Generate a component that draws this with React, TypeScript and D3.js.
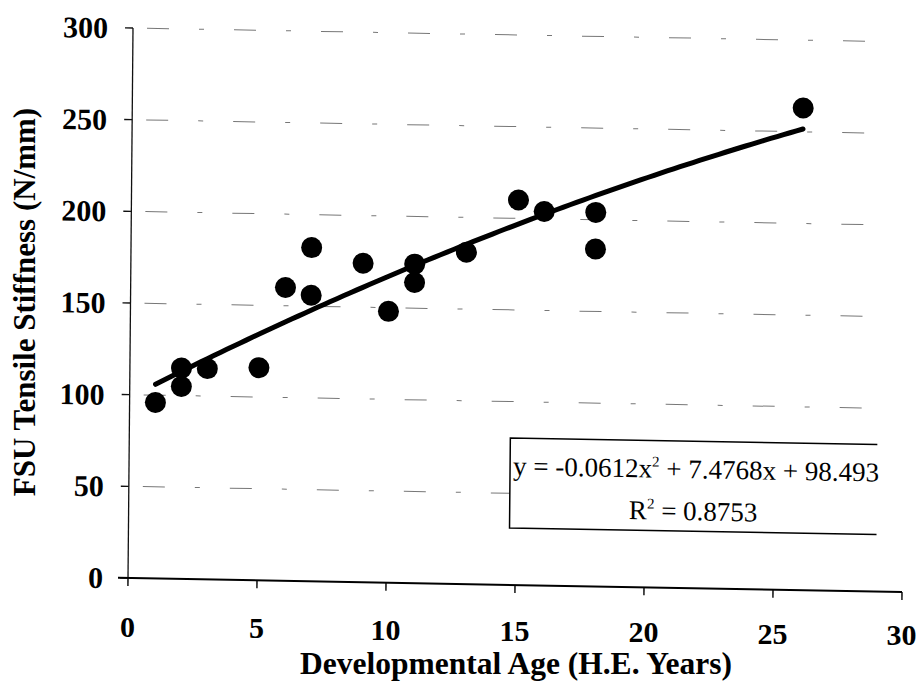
import React from 'react';
import * as d3 from 'd3';

// Measured specimens: developmental age (H.E. years) and FSU tensile stiffness (N/mm)
const ageYears = [1, 2, 2, 3, 5, 6, 7, 7, 9, 10, 11, 11, 13, 15, 16, 18, 18, 26];
const stiffness = [96, 115, 105, 115, 116, 160, 182, 156, 174, 148, 174, 164, 181, 210, 204, 204, 184, 263];

const xTicks = [0, 5, 10, 15, 20, 25, 30];
const yTicks = [0, 50, 100, 150, 200, 250, 300];

// Second-order polynomial trendline: y = a x^2 + b x + c
const trendCoefficients = [-0.0612, 7.4768, 98.4939];
const trendRange = [1, 26];
const rSquared = '0.8753';

const W = 921;
const H = 690;
const plotW = 774;
const plotH = 550;

export default function App() {
  const x = d3.scaleLinear().domain([0, 30]).range([0, plotW]);
  const y = d3.scaleLinear().domain([0, 300]).range([0, -plotH]);
  const [a, b, c] = trendCoefficients;
  const fitXs = d3.range(trendRange[0], trendRange[1] + 0.001, 0.25);
  const trendPath = d3
    .line<number>()
    .x((d) => x(d))
    .y((d) => y(a * d * d + b * d + c))(fitXs) as string;

  const serif = '"Liberation Serif", "Times New Roman", Times, serif';
  const points = ageYears.map((age, i) => ({ age, s: stiffness[i] }));

  // label box in plot units
  const box = { x0: 381, x1: 748, y0: -147, y1: -57 };

  return (
    <svg
      width={W}
      height={H}
      viewBox={`0 0 ${W} ${H}`}
      style={{ position: 'absolute', left: 0, top: 0, display: 'block', background: '#fff' }}
      fontFamily={serif}
    >
      <rect x={0} y={0} width={W} height={H} fill="#fff" />
      <defs>
        <clipPath id="eqClip">
          <rect x={box.x0} y={box.y0 - 5} width={box.x1 - box.x0 + 2} height={box.y1 - box.y0 + 10} />
        </clipPath>
      </defs>

      {/* plot frame, slightly skewed as on the printed page */}
      <g transform="matrix(1,0.0181,-0.0091,1,128,578)">
        {/* gridlines */}
        {yTicks
          .filter((t) => t > 0)
          .map((t) => (
            <line
              key={`g${t}`}
              x1={x(0) + 14}
              x2={x(30) - 40}
              y1={y(t)}
              y2={y(t)}
              stroke="#777"
              strokeWidth={1}
              strokeDasharray="22 30 5 30"
            />
          ))}

        {/* y axis */}
        <line x1={0} x2={0} y1={0} y2={-plotH} stroke="#111" strokeWidth={1.3} />
        {yTicks.map((t) => (
          <g key={`yt${t}`}>
            <line x1={-8} x2={0} y1={y(t)} y2={y(t)} stroke="#111" strokeWidth={1.4} />
            <text
              x={-25}
              y={y(t)}
              dy="0.35em"
              textAnchor="end"
              fontSize={30}
              fontWeight="bold"
              fill="#000"
            >
              {t}
            </text>
          </g>
        ))}

        {/* x axis */}
        <line x1={-10} x2={plotW} y1={0} y2={0} stroke="#000" strokeWidth={2} />
        {xTicks.map((t) => (
          <line key={`xt${t}`} x1={x(t)} x2={x(t)} y1={0} y2={8} stroke="#000" strokeWidth={1.4} />
        ))}

        {/* trendline */}
        <path d={trendPath} fill="none" stroke="#000" strokeWidth={5} strokeLinecap="round" />

        {/* data points */}
        {points.map((p, i) => (
          <circle key={i} cx={x(p.age)} cy={y(p.s)} r={10.5} fill="#000" />
        ))}

        {/* equation label */}
        <path
          d={`M${box.x1},${box.y0} L${box.x0},${box.y0} L${box.x0},${box.y1} L${box.x1},${box.y1}`}
          fill="#fff"
          stroke="#000"
          strokeWidth={1.5}
        />
        <g clipPath="url(#eqClip)" fill="#000">
          <text x={box.x0 + 3} y={-110} fontSize={27}>
            {`y = ${a}x`}
            <tspan dy={-11} fontSize={15}>2</tspan>
            <tspan dy={11}>{` + ${b}x + ${c}`}</tspan>
          </text>
          <text x={(box.x0 + box.x1) / 2} y={-68} fontSize={27} textAnchor="middle">
            R<tspan dy={-11} fontSize={15}>2</tspan>
            <tspan dy={11}>{` = ${rSquared}`}</tspan>
          </text>
        </g>
      </g>

      {/* x tick labels, following the page tilt */}
      {xTicks.map((t) => (
        <text
          key={`xl${t}`}
          x={127.5 + x(t)}
          y={637 + (8 * t) / 30}
          textAnchor="middle"
          fontSize={30}
          fontWeight="bold"
          fill="#000"
        >
          {t}
        </text>
      ))}

      {/* axis titles */}
      <text x={516} y={674} textAnchor="middle" fontSize={31.5} fontWeight="bold" fill="#000">
        Developmental Age (H.E. Years)
      </text>
      <text
        transform="translate(35,302) rotate(-90)"
        textAnchor="middle"
        fontSize={31}
        fontWeight="bold"
        fill="#000"
      >
        FSU Tensile Stiffness (N/mm)
      </text>
    </svg>
  );
}
